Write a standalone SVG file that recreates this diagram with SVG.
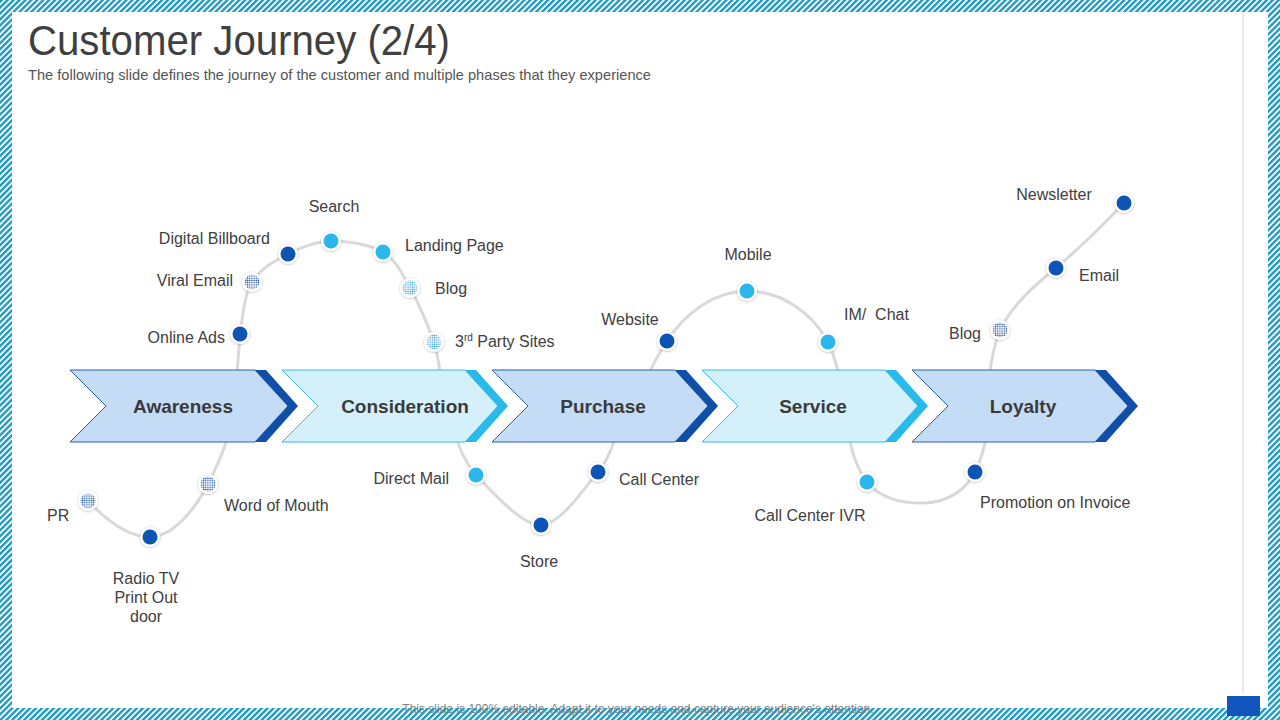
<svg xmlns="http://www.w3.org/2000/svg" width="1280" height="720" viewBox="0 0 1280 720">
<defs>
<pattern id="stripes" width="4.2" height="4.2" patternUnits="userSpaceOnUse" patternTransform="rotate(45)">
<rect width="4.2" height="4.2" fill="#ffffff"/>
<rect width="2.4" height="4.2" fill="#1f9bc3"/>
</pattern>
<pattern id="patDark" width="2.2" height="2.2" patternUnits="userSpaceOnUse">
<rect width="2.2" height="2.2" fill="#ffffff"/>
<circle cx="1.1" cy="1.1" r="0.75" fill="#1a4f9e"/>
</pattern>
<pattern id="patLight" width="2.2" height="2.2" patternUnits="userSpaceOnUse">
<rect width="2.2" height="2.2" fill="#ffffff"/>
<circle cx="1.1" cy="1.1" r="0.75" fill="#3a9fcf"/>
</pattern>
<filter id="sh" x="-50%" y="-50%" width="200%" height="200%">
<feDropShadow dx="0" dy="0.5" stdDeviation="1" flood-color="#000" flood-opacity="0.3"/>
</filter>
</defs>
<style>
.lbl{font-family:"Liberation Sans",Arial,sans-serif;font-size:16px;fill:#404040}
.chv{font-family:"Liberation Sans",Arial,sans-serif;font-size:19px;font-weight:bold;fill:#3a3a3a;text-anchor:middle}
.curve{fill:none;stroke:#d9d9d9;stroke-width:3;stroke-linecap:round}
.ring{fill:#ffffff;filter:url(#sh)}
.dk{fill:#0d55b4}
.cy{fill:#2bb7ec}
.pd{fill:url(#patDark)}
.pl{fill:url(#patLight)}
.bodyB{fill:#c5dcf7;stroke:#2a5fae;stroke-width:1}
.bandB{fill:#0f4fa8}
.bodyC{fill:#d4f0fb;stroke:#3ab9e4;stroke-width:1}
.bandC{fill:#29b9ea}
</style>

<!-- border -->
<rect x="0" y="0" width="1280" height="720" fill="url(#stripes)"/>
<rect x="12" y="12" width="1256" height="696" fill="#ffffff"/>
<line x1="1243" y1="12" x2="1243" y2="693" stroke="#d4d4d4" stroke-width="1"/>
<rect x="1227" y="696" width="33" height="20" fill="#1256bd"/>

<!-- title -->
<text x="28" y="55" font-family="'Liberation Sans',Arial,sans-serif" font-size="42" fill="#404040" textLength="422" lengthAdjust="spacingAndGlyphs">Customer Journey (2/4)</text>
<text x="28" y="80" font-family="'Liberation Sans',Arial,sans-serif" font-size="14.5" fill="#555555" textLength="623" lengthAdjust="spacingAndGlyphs">The following slide defines the journey of the customer and multiple phases that they experience</text>

<!-- connectors -->
<g id="connectors">
<path class="curve" d="M 88 501 C 108 522, 130 537, 150 537 C 172 537, 195 510, 208 484 C 216 468, 222 456, 230 430"/>
<path class="curve" d="M 236.5 380 C 238 360, 239 346, 240 334 C 242.5 319, 244 295, 252 282 C 260 268.7, 274.8 260.8, 288 254 C 301.2 247.2, 315.2 241.3, 331 241 C 346.8 240.7, 369.8 244.2, 383 252 C 396.2 259.8, 401.5 273, 410 288 C 418.5 303, 429 328.3, 434 342 C 437 352, 439 362, 441 380"/>
<path class="curve" d="M 455 432 C 458 445, 465 462, 476 475 C 489.8 488.8, 520.7 525.5, 541 525 C 561.3 524.5, 585.7 485.8, 598 472 C 606 463, 611 452, 617 432"/>
<path class="curve" d="M 646 380 C 652 366, 658 355, 667 341 C 685 313, 715 291, 747 291 C 780 291, 812 312, 828 342 C 833 352, 836 362, 840 380"/>
<path class="curve" d="M 848 432 C 852 455, 858 470, 867 482 C 880 498, 902 504, 925 503 C 948 502, 966 490, 975 472 C 980 462, 984 452, 987 432"/>
<path class="curve" d="M 989 380 C 991 360, 994 345, 1000 330 C 1012 305, 1035 285, 1056 268 C 1080 248, 1102 226, 1124 203"/>
</g>

<!-- chevrons -->
<g id="awareness">
<polygon class="bodyB" points="70,370 255,370 288,406 255,442 70,442 106,406"/>
<polygon class="bandB" points="255,370 266,370 298,406 266,442 255,442 288,406"/>
<text class="chv" x="183" y="413">Awareness</text>
</g>
<g id="consideration">
<polygon class="bodyC" points="282,370 465,370 498,406 465,442 282,442 318,406"/>
<polygon class="bandC" points="465,370 476,370 508,406 476,442 465,442 498,406"/>
<text class="chv" x="405" y="413">Consideration</text>
</g>
<g id="purchase">
<polygon class="bodyB" points="492,370 675,370 708,406 675,442 492,442 528,406"/>
<polygon class="bandB" points="675,370 686,370 718,406 686,442 675,442 708,406"/>
<text class="chv" x="603" y="413">Purchase</text>
</g>
<g id="service">
<polygon class="bodyC" points="702,370 885,370 918,406 885,442 702,442 738,406"/>
<polygon class="bandC" points="885,370 896,370 928,406 896,442 885,442 918,406"/>
<text class="chv" x="813" y="413">Service</text>
</g>
<g id="loyalty">
<polygon class="bodyB" points="912,370 1095,370 1128,406 1095,442 912,442 948,406"/>
<polygon class="bandB" points="1095,370 1106,370 1138,406 1106,442 1095,442 1128,406"/>
<text class="chv" x="1023" y="413">Loyalty</text>
</g>

<!-- touchpoints -->
<g id="pr"><circle class="ring" cx="88" cy="501" r="10"/><circle class="pd" cx="88" cy="501" r="7.5"/><text class="lbl" x="47" y="521">PR</text></g>
<g id="radio-tv"><circle class="ring" cx="150" cy="537" r="10"/><circle class="dk" cx="150" cy="537" r="7.5"/>
<text class="lbl" x="146" y="584" text-anchor="middle">Radio TV</text>
<text class="lbl" x="146" y="603" text-anchor="middle">Print Out</text>
<text class="lbl" x="146" y="622" text-anchor="middle">door</text></g>
<g id="word-of-mouth"><circle class="ring" cx="208" cy="484" r="10"/><circle class="pd" cx="208" cy="484" r="7.5"/><text class="lbl" x="224" y="511">Word of Mouth</text></g>
<g id="online-ads"><circle class="ring" cx="240" cy="334" r="10"/><circle class="dk" cx="240" cy="334" r="7.5"/><text class="lbl" x="225" y="343" text-anchor="end">Online Ads</text></g>
<g id="viral-email"><circle class="ring" cx="252" cy="282" r="10"/><circle class="pd" cx="252" cy="282" r="7.5"/><text class="lbl" x="233" y="286" text-anchor="end">Viral Email</text></g>
<g id="digital-billboard"><circle class="ring" cx="288" cy="254" r="10"/><circle class="dk" cx="288" cy="254" r="7.5"/><text class="lbl" x="270" y="244" text-anchor="end">Digital Billboard</text></g>
<g id="search"><circle class="ring" cx="331" cy="241" r="10"/><circle class="cy" cx="331" cy="241" r="7.5"/><text class="lbl" x="334" y="212" text-anchor="middle">Search</text></g>
<g id="landing-page"><circle class="ring" cx="383" cy="252" r="10"/><circle class="cy" cx="383" cy="252" r="7.5"/><text class="lbl" x="405" y="251">Landing Page</text></g>
<g id="blog-1"><circle class="ring" cx="410" cy="288" r="10"/><circle class="pl" cx="410" cy="288" r="7.5"/><text class="lbl" x="435" y="294">Blog</text></g>
<g id="third-party"><circle class="ring" cx="434" cy="342" r="10"/><circle class="pl" cx="434" cy="342" r="7.5"/><text class="lbl" x="455" y="347">3<tspan font-size="10" dy="-6">rd</tspan><tspan dy="6"> Party Sites</tspan></text></g>
<g id="direct-mail"><circle class="ring" cx="476" cy="475" r="10"/><circle class="cy" cx="476" cy="475" r="7.5"/><text class="lbl" x="449" y="484" text-anchor="end">Direct Mail</text></g>
<g id="store"><circle class="ring" cx="541" cy="525" r="10"/><circle class="dk" cx="541" cy="525" r="7.5"/><text class="lbl" x="539" y="567" text-anchor="middle">Store</text></g>
<g id="call-center"><circle class="ring" cx="598" cy="472" r="10"/><circle class="dk" cx="598" cy="472" r="7.5"/><text class="lbl" x="619" y="485">Call Center</text></g>
<g id="website"><circle class="ring" cx="667" cy="341" r="10"/><circle class="dk" cx="667" cy="341" r="7.5"/><text class="lbl" x="630" y="325" text-anchor="middle">Website</text></g>
<g id="mobile"><circle class="ring" cx="747" cy="291" r="10"/><circle class="cy" cx="747" cy="291" r="7.5"/><text class="lbl" x="748" y="260" text-anchor="middle">Mobile</text></g>
<g id="im-chat"><circle class="ring" cx="828" cy="342" r="10"/><circle class="cy" cx="828" cy="342" r="7.5"/><text class="lbl" x="844" y="320" xml:space="preserve">IM/  Chat</text></g>
<g id="call-center-ivr"><circle class="ring" cx="867" cy="482" r="10"/><circle class="cy" cx="867" cy="482" r="7.5"/><text class="lbl" x="810" y="521" text-anchor="middle">Call Center IVR</text></g>
<g id="promotion"><circle class="ring" cx="975" cy="472" r="10"/><circle class="dk" cx="975" cy="472" r="7.5"/><text class="lbl" x="980" y="508">Promotion on Invoice</text></g>
<g id="blog-2"><circle class="ring" cx="1000" cy="330" r="10"/><circle class="pd" cx="1000" cy="330" r="7.5"/><text class="lbl" x="981" y="339" text-anchor="end">Blog</text></g>
<g id="email"><circle class="ring" cx="1056" cy="268" r="10"/><circle class="dk" cx="1056" cy="268" r="7.5"/><text class="lbl" x="1079" y="281">Email</text></g>
<g id="newsletter"><circle class="ring" cx="1124" cy="203" r="10"/><circle class="dk" cx="1124" cy="203" r="7.5"/><text class="lbl" x="1054" y="200" text-anchor="middle">Newsletter</text></g>

<!-- footer -->
<text x="638" y="713" text-anchor="middle" font-family="'Liberation Sans',Arial,sans-serif" font-size="12" fill="#808080">This slide is 100% editable. Adapt it to your needs and capture your audience's attention.</text>
</svg>
